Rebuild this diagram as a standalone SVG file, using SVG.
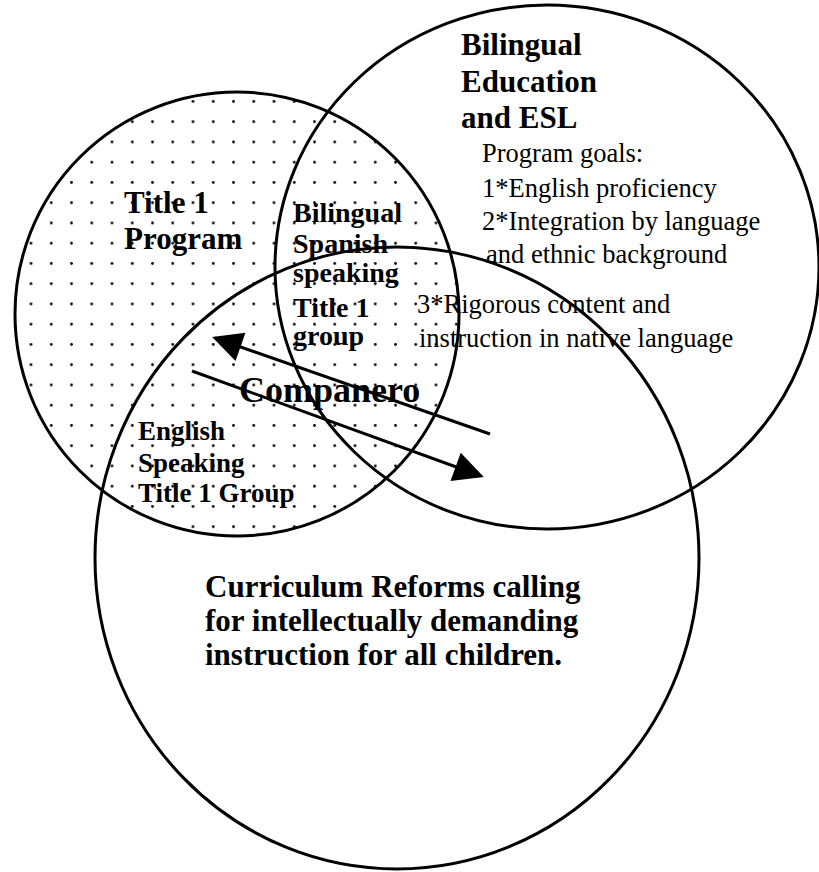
<svg xmlns="http://www.w3.org/2000/svg" width="819" height="872" viewBox="0 0 819 872">
  <style>
    .ring { fill: none; stroke: #000; stroke-width: 3; }
    .lbl { font-family: "Liberation Serif", "Times New Roman", serif; font-weight: bold; fill: #000; }
    .reg { font-family: "Liberation Serif", "Times New Roman", serif; font-weight: normal; fill: #000; font-size: 26.5px; }
    .conn { stroke: #000; stroke-width: 3; fill: none; }
  </style>
  <defs>
    <pattern id="dots" patternUnits="userSpaceOnUse" x="0.625" y="-9.9" width="20.25" height="20.25">
      <circle cx="10.125" cy="10.125" r="1.4" fill="#000"/>
    </pattern>
    <marker id="head" viewBox="0 0 10 10" refX="9" refY="5" markerUnits="userSpaceOnUse" markerWidth="36" markerHeight="30" orient="auto">
      <path d="M0,0 L10,5 L0,10 Z" fill="#000"/>
    </marker>
  </defs>
  <rect width="819" height="872" fill="#fff"/>

  <g id="title1">
    <circle cx="237" cy="314" r="222" fill="url(#dots)"/>
    <circle class="ring" cx="237" cy="314" r="222"/>
  </g>
  <g id="bilingual">
    <ellipse class="ring" cx="547" cy="267" rx="272" ry="262"/>
  </g>
  <g id="curriculum">
    <ellipse class="ring" cx="397" cy="558" rx="302" ry="311"/>
  </g>

  <g id="connectors">
    <line class="conn" x1="490" y1="434" x2="215" y2="338" marker-end="url(#head)"/>
    <line class="conn" x1="192" y1="371" x2="481" y2="476" marker-end="url(#head)"/>
  </g>

  <g id="title1-label">
    <text class="lbl" font-size="31" x="124" y="213">Title 1</text>
    <text class="lbl" font-size="31" x="124" y="249">Program</text>
  </g>
  <g id="bilingual-label">
    <text class="lbl" font-size="31" x="461" y="55">Bilingual</text>
    <text class="lbl" font-size="31" x="461" y="92">Education</text>
    <text class="lbl" font-size="31" x="461" y="128">and ESL</text>
    <text class="reg" x="482" y="162">Program goals:</text>
    <text class="reg" x="482" y="197">1*English proficiency</text>
    <text class="reg" x="482" y="230">2*Integration by language</text>
    <text class="reg" x="486" y="263">and ethnic background</text>
    <text class="reg" x="417" y="313">3*Rigorous content and</text>
    <text class="reg" x="419" y="347">instruction in native language</text>
  </g>
  <g id="spanish-group">
    <text class="lbl" font-size="28" x="293" y="222">Bilingual</text>
    <text class="lbl" font-size="28" x="293" y="253">Spanish</text>
    <text class="lbl" font-size="28" x="293" y="282">speaking</text>
    <text class="lbl" font-size="28" x="293" y="317">Title 1</text>
    <text class="lbl" font-size="28" x="293" y="345">group</text>
  </g>
  <g id="english-group">
    <text class="lbl" font-size="27" x="138" y="440">English</text>
    <text class="lbl" font-size="27" x="138" y="472">Speaking</text>
    <text class="lbl" font-size="27" x="138" y="502">Title 1 Group</text>
  </g>
  <g id="companero">
    <text class="lbl" font-size="36" x="239" y="402">Companero</text>
  </g>
  <g id="curriculum-label">
    <text class="lbl" font-size="31" x="205" y="597">Curriculum Reforms calling</text>
    <text class="lbl" font-size="31" x="205" y="631">for intellectually demanding</text>
    <text class="lbl" font-size="31" x="205" y="665">instruction for all children.</text>
  </g>
</svg>
